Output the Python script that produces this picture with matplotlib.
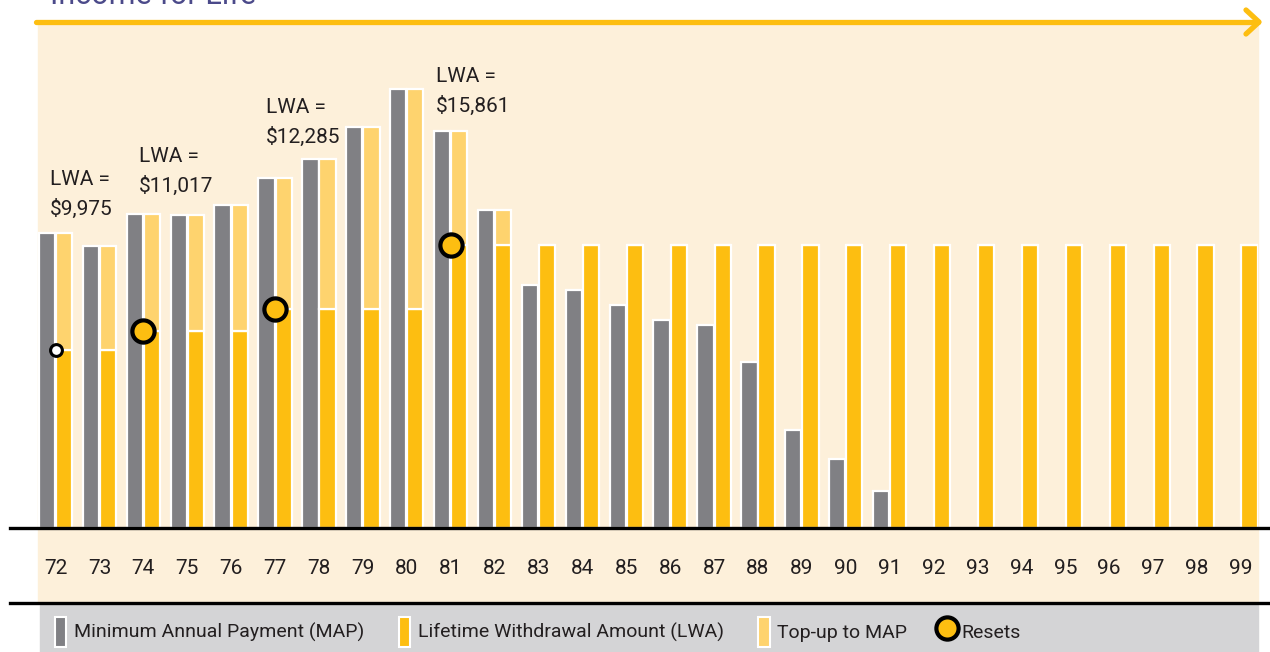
#!/usr/bin/env python3
"""Income for Life - MAP / LWA / Top-up bar chart"""

import matplotlib

matplotlib.use("Agg")
import matplotlib.pyplot as plt
from matplotlib import font_manager
from matplotlib.lines import Line2D
from matplotlib.patches import Patch, Rectangle

# ---- data ----
ages = list(range(72, 100))
map_values = [
    16530, 15800, 17600, 17540, 18100, 19600, 20680, 22470, 24600, 22250,
    17820, 13620, 13340, 12500, 11660, 11380, 9300, 5490, 3870, 2070,
    0, 0, 0, 0, 0, 0, 0, 0,
]
lwa_values = [9975] * 2 + [11017] * 3 + [12285] * 4 + [15861] * 19
reset_ages = [72, 74, 77, 81]
lwa_labels = ["LWA =\n$9,975", "LWA =\n$11,017", "LWA =\n$12,285", "LWA =\n$15,861"]
legend_labels = [
    "Minimum Annual Payment (MAP)",
    "Lifetime Withdrawal Amount (LWA)",
    "Top-up to MAP",
    "Resets",
]

# ---- colours ----
GREY = "#808084"
GOLD = "#FDBE11"
LIGHT_GOLD = "#FED36E"
CREAM = "#FDF0DA"
BAND = "#D4D4D6"
TEXT = "#231F20"

# 細めのフォントがあれば使う
names = {f.name for f in font_manager.fontManager.ttflist}
family = [n for n in ["Liberation Sans Narrow", "Roboto", "DejaVu Sans"] if n in names]
plt.rcParams["font.family"] = family + ["DejaVu Sans"]

W, H = 1270, 652
fig = plt.figure(figsize=(W / 100, H / 100), dpi=100)
fig.patch.set_facecolor("white")


def fx(px):
    return px / W


def fy(py):
    return 1 - py / H


# background panels
fig.patches.append(Rectangle((fx(38), fy(603)), fx(1220), 581 / H,
                             transform=fig.transFigure, color=CREAM, zorder=-2))
fig.patches.append(Rectangle((fx(40), 0), fx(1218), 47 / H,
                             transform=fig.transFigure, color=BAND, zorder=-2))

# black rules
for py in (528, 603):
    fig.lines.append(Line2D([fx(10), 1], [fy(py), fy(py)], transform=fig.transFigure,
                            color="black", lw=2.4, zorder=5))

# orange arrow at top
fig.lines.append(Line2D([fx(36), fx(1258)], [fy(22), fy(22)], transform=fig.transFigure,
                        color=GOLD, lw=3.8, solid_capstyle="round", zorder=5))
fig.lines.append(Line2D([fx(1246), fx(1259), fx(1246)], [fy(10), fy(22), fy(34)],
                        transform=fig.transFigure, color=GOLD, lw=3.8,
                        solid_capstyle="round", solid_joinstyle="round", zorder=5))

# title (cut off at top, as in the source)
fig.text(fx(50), fy(4), "Income for Life", fontsize=22, color="#4B4A8A",
         ha="left", va="baseline")

# ---- main axes ----
ax = fig.add_axes([fx(38), fy(528), fx(1220), 506 / H])
ax.patch.set_visible(False)
ax.set_xlim(71.6, 99.39)
ax.set_ylim(0, 28356)
for s in ax.spines.values():
    s.set_visible(False)
ax.set_yticks([])
ax.set_xticks([])

bw = 0.37
off = 0.195
grey_x = [a - off for a in ages]
gold_x = [a + off for a in ages]
topup = [max(m - l, 0) for m, l in zip(map_values, lwa_values)]

ax.bar(grey_x, map_values, width=bw, color=GREY, edgecolor="white", linewidth=1.6, zorder=2)
ax.bar(gold_x, lwa_values, width=bw, color=GOLD, edgecolor="white", linewidth=1.6, zorder=2)
ax.bar(gold_x, topup, bottom=lwa_values, width=bw, color=LIGHT_GOLD,
       edgecolor="white", linewidth=1.6, zorder=2)

# reset markers
for i, age in enumerate(reset_ages):
    y = lwa_values[ages.index(age)]
    if i == 0:
        ax.plot(age, y, "o", ms=8.5, mfc="white", mec="black", mew=2.2, zorder=4)
    else:
        ax.plot(age, y, "o", ms=16, mfc=GOLD, mec="black", mew=3.0, zorder=4)

# LWA annotations
label_pos = [(-0.13, 17350), (-0.1, 18600), (-0.2, 21350), (-0.33, 23100)]
for age, txt, (dx, y) in zip(reset_ages, lwa_labels, label_pos):
    ax.text(age + dx, y, txt, fontsize=15, color=TEXT, ha="left", va="bottom",
            linespacing=1.6, zorder=3)

# age labels
for age in ages:
    ax.text(age, -2250, str(age), fontsize=15, color=TEXT, ha="center", va="center",
            clip_on=False)

# ---- legend ----
handles = [
    Patch(facecolor=GREY, edgecolor="white", linewidth=1.5),
    Patch(facecolor=GOLD, edgecolor="white", linewidth=1.5),
    Patch(facecolor=LIGHT_GOLD, edgecolor="white", linewidth=1.5),
    Line2D([], [], marker="o", ls="none", ms=16, mfc=GOLD, mec="black", mew=3.0),
]
fig.legend(handles, legend_labels, loc="center left", bbox_to_anchor=(fx(47), fy(632)),
           ncol=4, frameon=False, fontsize=14, handlelength=0.6, handleheight=2.0,
           handletextpad=0.4, columnspacing=1.75, labelcolor=TEXT, borderaxespad=0)

fig.savefig("out.png", dpi=100, facecolor="white")
